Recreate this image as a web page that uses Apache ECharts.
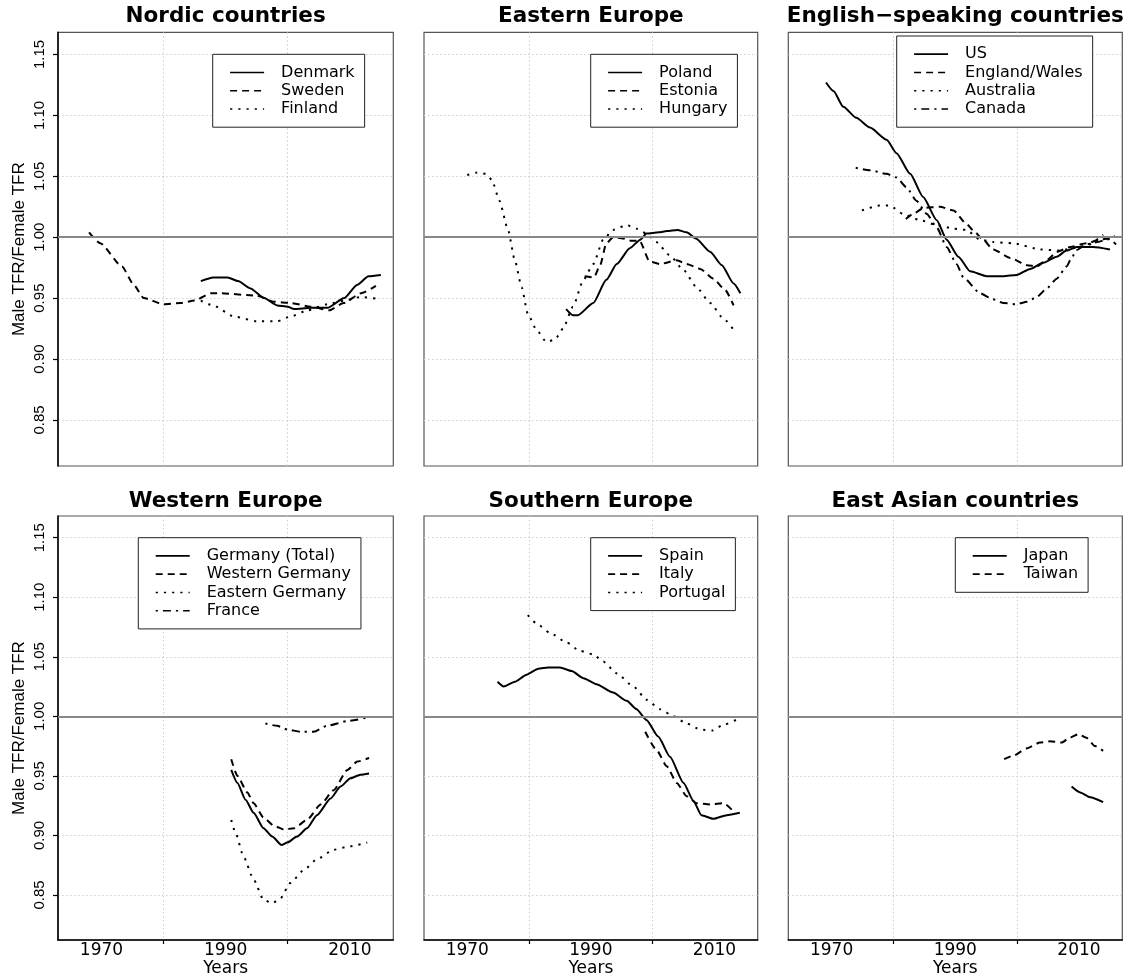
<!DOCTYPE html>
<html><head><meta charset="utf-8">
<script src="https://cdn.jsdelivr.net/npm/echarts@6/dist/echarts.min.js"></script>
<style>html,body{margin:0;padding:0;background:#fff}#c{width:1126px;height:976px}</style>
</head><body><div id="c"></div>
<script>
// ---------- data (year, Male TFR / Female TFR) ----------
const denmark = [[1986,0.964],[1988,0.967],[1990.3,0.967],[1992,0.964],[1994,0.958],[1996.2,0.950],[1998.3,0.944],[2000,0.943],[2001,0.941],[2003.7,0.942],[2006.4,0.942],[2009.1,0.950],[2011.2,0.961],[2013,0.968],[2015,0.969]];
const sweden = [[1968,1.004],[1969.8,0.995],[1973.3,0.976],[1975.2,0.961],[1976.8,0.950],[1980,0.945],[1982.7,0.946],[1985,0.948],[1987.6,0.954],[1989.2,0.954],[1995,0.952],[1997.8,0.947],[2000.5,0.946],[2003.7,0.943],[2006.7,0.940],[2009,0.946],[2011.8,0.954],[2014.2,0.960]];
const finland = [[1986,0.948],[1988,0.944],[1991.3,0.935],[1995,0.931],[1998.3,0.931],[2000.5,0.935],[2003.2,0.940],[2006.4,0.945],[2009.1,0.948],[2011.8,0.951],[2015,0.949]];

const poland = [[1986,0.941],[1987.1,0.936],[1987.9,0.936],[1990.4,0.946],[1992.5,0.965],[1994.2,0.978],[1996.3,0.991],[1998,0.998],[1999,1.003],[2001,1.004],[2002.3,1.005],[2004,1.006],[2005.5,1.004],[2007,0.999],[2009.3,0.988],[2011.2,0.977],[2013.1,0.962],[2014.2,0.954]];
const estonia = [[1989,0.968],[1990.5,0.967],[1991.5,0.977],[1992.5,0.995],[1993.6,1.000],[1995.2,0.999],[1996.6,0.997],[1997.9,0.997],[1999.5,0.980],[2001.2,0.978],[2003.9,0.981],[2005.5,0.978],[2007.7,0.974],[2009.8,0.966],[2011.7,0.957],[2013.1,0.944]];
const hungary = [[1970,1.051],[1971.5,1.053],[1973,1.052],[1974,1.047],[1975.2,1.030],[1976.6,1.006],[1977.7,0.981],[1978.8,0.959],[1979.8,0.937],[1981.2,0.924],[1982.8,0.914],[1984.2,0.916],[1985.5,0.925],[1987.1,0.943],[1988.8,0.965],[1990.4,0.978],[1992,0.998],[1993.6,1.006],[1995.8,1.010],[1997.4,1.007],[1999,1.003],[2000.6,0.996],[2002.8,0.985],[2005,0.973],[2007.1,0.959],[2009.3,0.946],[2011.5,0.933],[2013.4,0.922]];

const us = [[1969.1,1.127],[1970.3,1.120],[1971.9,1.107],[1974,1.098],[1976.2,1.090],[1978.9,1.080],[1980.5,1.069],[1982.7,1.052],[1984.8,1.033],[1987,1.014],[1988.6,0.998],[1990.5,0.984],[1992.4,0.972],[1995.1,0.968],[1997.8,0.968],[1999.9,0.969],[2002.1,0.974],[2004.2,0.979],[2006.4,0.984],[2008,0.989],[2009.6,0.992],[2012.3,0.992],[2015,0.990]];
const englandWales = [[1982,1.015],[1983.5,1.020],[1984.8,1.024],[1987.5,1.025],[1989.7,1.022],[1991.8,1.011],[1993,1.005],[1994.5,0.998],[1996.1,0.990],[1998.9,0.983],[2001.6,0.977],[2003.2,0.976],[2005,0.982],[2006.4,0.988],[2008.6,0.992],[2011.2,0.995],[2013.4,0.998],[2014.8,0.999],[2016,0.994]];
const australia = [[1974.9,1.022],[1977.8,1.026],[1979.4,1.026],[1981.6,1.019],[1984.3,1.014],[1987,1.010],[1989.7,1.007],[1991.8,1.006],[1994,0.998],[1996.1,0.996],[1999.4,0.995],[2003.7,0.990],[2006.9,0.989],[2009,0.991],[2011.2,0.993],[2013.9,1.002]];
const canada = [[1973.9,1.057],[1976.2,1.055],[1978.9,1.052],[1980.5,1.049],[1982.1,1.041],[1983.7,1.030],[1985.4,1.019],[1987,1.008],[1988.6,0.992],[1990.2,0.978],[1991.3,0.967],[1994,0.954],[1996.1,0.949],[1997.8,0.946],[1999.9,0.945],[2001.6,0.947],[2003.2,0.951],[2004.8,0.958],[2006.4,0.966],[2008,0.976],[2008.8,0.983],[2009.6,0.9895],[2011.2,0.994],[2012.9,0.996],[2014.5,0.998],[2015.8,1.001]];

const germanyTotal = [[1990.9,0.955],[1991.9,0.944],[1993.2,0.930],[1994.5,0.919],[1996.1,0.906],[1997.5,0.899],[1999,0.892],[1999.9,0.894],[2001.5,0.899],[2003.1,0.906],[2004.7,0.917],[2006.9,0.931],[2008.5,0.941],[2010.1,0.948],[2011.7,0.951],[2013.1,0.952]];
const westernGermany = [[1990.9,0.964],[1991.9,0.950],[1993.5,0.936],[1994.5,0.927],[1996.1,0.915],[1997.8,0.908],[1999.4,0.905],[2001,0.906],[2003.1,0.913],[2005.3,0.926],[2007.4,0.938],[2009.6,0.955],[2011.2,0.962],[2013.1,0.965]];
const easternGermany = [[1990.9,0.913],[1991.6,0.902],[1992.9,0.882],[1994.5,0.863],[1996.1,0.846],[1997.5,0.843],[1998.8,0.847],[2000.4,0.860],[2002.6,0.871],[2004.7,0.880],[2007.4,0.888],[2010.1,0.891],[2012.8,0.894]];
const france = [[1996.4,0.994],[1998.3,0.992],[1999.9,0.989],[2002.1,0.987],[2004.2,0.987],[2006.3,0.992],[2009.6,0.996],[2012.8,0.999]];

const spain = [[1974.9,1.029],[1975.9,1.025],[1977.7,1.029],[1979.6,1.035],[1981.5,1.040],[1983.1,1.041],[1985,1.041],[1986.9,1.038],[1988.8,1.032],[1990.9,1.027],[1993.6,1.020],[1995.8,1.013],[1997.4,1.006],[1999,0.997],[2000.9,0.983],[2002.8,0.966],[2005,0.944],[2006.6,0.929],[2007.9,0.917],[2009.8,0.914],[2012,0.917],[2014.1,0.919]];
const italy = [[1998.8,0.987],[2000.6,0.972],[2002.3,0.958],[2003.9,0.944],[2005.5,0.933],[2007.1,0.927],[2009.3,0.926],[2011.5,0.927],[2013.1,0.920]];
const portugal = [[1979.8,1.085],[1981.2,1.078],[1983.4,1.070],[1986.1,1.062],[1988.2,1.055],[1990.4,1.052],[1992,1.046],[1994.2,1.036],[1996.9,1.025],[1999,1.014],[2001.2,1.006],[2003.4,1.000],[2005.5,0.994],[2007.7,0.989],[2009.6,0.988],[2011.5,0.993],[2013.9,0.998]];

const japan = [[2008.8,0.941],[2010.2,0.936],[2011.8,0.932],[2013.9,0.928]];
const taiwan = [[1997.9,0.964],[1999.4,0.967],[2001.5,0.973],[2003.7,0.978],[2005.3,0.979],[2007.2,0.978],[2008.5,0.982],[2009.9,0.985],[2011.2,0.982],[2012.6,0.975],[2013.9,0.971]];

// tick labels
const xTickLabels = [1970, 1990, 2010];
const xTickMarks = [1980, 2000];
const yTicks = [0.85, 0.90, 0.95, 1.00, 1.05, 1.10, 1.15];
const refValue = 1.0;

const panels = [
  {title:'Nordic countries', names:['Denmark','Sweden','Finland'], data:[denmark,sweden,finland], types:['solid','dashed','dotted']},
  {title:'Eastern Europe', names:['Poland','Estonia','Hungary'], data:[poland,estonia,hungary], types:['solid','dashed','dotted']},
  {title:'English\u2212speaking countries', names:['US','England/Wales','Australia','Canada'], data:[us,englandWales,australia,canada], types:['solid','dashed','dotted','dotdash']},
  {title:'Western Europe', names:['Germany (Total)','Western Germany','Eastern Germany','France'], data:[germanyTotal,westernGermany,easternGermany,france], types:['solid','dashed','dotted','dotdash']},
  {title:'Southern Europe', names:['Spain','Italy','Portugal'], data:[spain,italy,portugal], types:['solid','dashed','dotted']},
  {title:'East Asian countries', names:['Japan','Taiwan'], data:[japan,taiwan], types:['solid','dashed']}
];

// ---------- layout ----------
const colL = [58, 424, 788.3], colW = [335.3, 333.7, 334];
const rowT = [32.3, 516], rowH = [433.7, 424];
const titleTop = [5.5, 490.5];
const legendPos = [[212.7,54.3],[590.7,54.3],[896.7,36],[138.3,537.7],[590.7,537.7],[955.3,537.7]];
const dashMap = {solid:'solid', dashed:[7,5], dotted:[2.2,6], dotdash:[2.2,5,8,5]};

const grid=[], xAxis=[], yAxis=[], series=[], legend=[], title=[];
const splitLine = {show:true, lineStyle:{color:'#cfcfcf', width:1, type:[1.5,2.5]}};
panels.forEach((p,i)=>{
  const col=i%3, row=Math.floor(i/3);
  grid.push({left:colL[col], top:rowT[row], width:colW[col], height:rowH[row], show:true,
    borderColor:'#555', borderWidth:1.2, backgroundColor:'transparent', containLabel:false, outerBoundsMode:'none'});
  xAxis.push({gridIndex:i, type:'value', min:1963, max:2017, interval:10,
    axisLine:{show:row===1, onZero:false, lineStyle:{color:'#000', width:1.5}},
    axisTick:{show:row===1, customValues:xTickMarks, length:4, lineStyle:{color:'#000', width:1.2}},
    axisLabel:{show:row===1, customValues:xTickLabels, margin:2, formatter:v=>String(v),
      fontFamily:'DejaVu Sans', fontSize:17, color:'#000'},
    splitLine:splitLine,
    name: row===1?'Years':'', nameLocation:'middle', nameGap:16,
    nameTextStyle:{fontFamily:'DejaVu Sans', fontSize:17, color:'#000'}});
  yAxis.push({gridIndex:i, type:'value', min:0.8122, max:1.1682, interval:0.05,
    axisLine:{show:col===0, onZero:false, lineStyle:{color:'#000', width:1.5}},
    axisTick:{show:col===0, customValues:yTicks, length:5, lineStyle:{color:'#000', width:1.2}},
    axisLabel:{show:col===0, customValues:yTicks, rotate:90, margin:11, formatter:v=>v.toFixed(2),
      fontFamily:'Liberation Sans', fontSize:15, color:'#000'},
    splitLine:splitLine,
    name: col===0?'Male TFR/Female TFR':'', nameLocation:'middle', nameGap:30,
    nameTextStyle:{fontFamily:'Liberation Sans', fontSize:17, color:'#000'}});
  p.names.forEach((n,k)=>{
    const s = {type:'line', name:n, xAxisIndex:i, yAxisIndex:i, data:p.data[k], symbol:'none',
      smooth:0.2, smoothMonotone:'x', z:3,
      lineStyle:{color:'#000', width:2, type:dashMap[p.types[k]]}, itemStyle:{color:'#000'}};
    if (k===0) s.markLine = {silent:true, symbol:['none','none'], label:{show:false}, z:4,
      lineStyle:{color:'#888', width:2, type:'solid'}, data:[{yAxis:refValue}], animation:false};
    series.push(s);
  });
  legend.push({left:legendPos[i][0], top:legendPos[i][1], orient:'vertical', data:p.names,
    itemWidth:34, itemHeight:18.3, itemGap:0, padding:[9,10,9,16.6], borderColor:'#222', borderWidth:1,
    selectedMode:false, backgroundColor:'#fff',
    itemStyle:{opacity:0, borderWidth:0},
    lineStyle:{width:1.6},
    textStyle:{fontFamily:'DejaVu Sans', fontSize:16, color:'#000', lineHeight:18.3, padding:[0,0,0,12]}});
  title.push({text:p.title, left:colL[col]+colW[col]/2, top:titleTop[row], textAlign:'center', padding:0,
    textStyle:{fontFamily:'DejaVu Sans', fontWeight:'bold', fontSize:21.5, color:'#000'}});
});

const chart = echarts.init(document.getElementById('c'), null, {renderer:'canvas'});
chart.setOption({animation:false, backgroundColor:'#fff', title, grid, xAxis, yAxis, legend, series});
</script></body></html>
